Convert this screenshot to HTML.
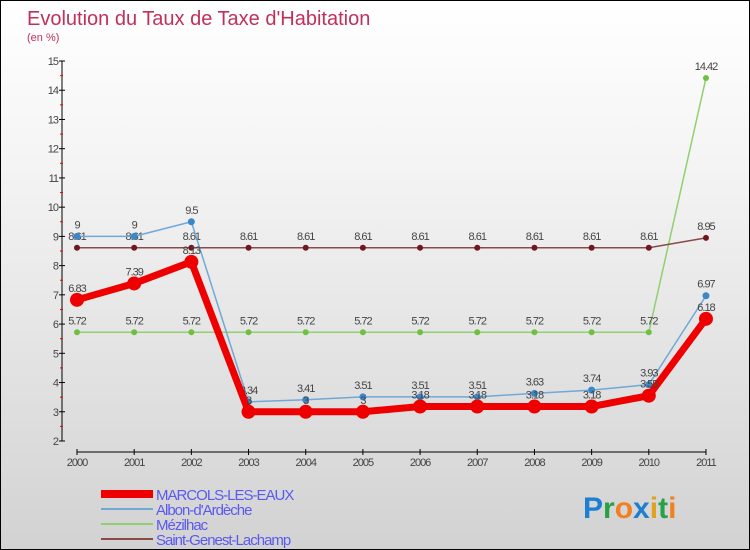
<!DOCTYPE html>
<html><head><meta charset="utf-8"><style>
body{margin:0}
#c{width:748px;height:548px;border:1px solid #000;background:linear-gradient(#ffffff,#f4f4f4 30%,#d2d2d2);position:relative;font-family:"Liberation Sans",sans-serif;overflow:hidden}
svg{position:absolute;left:0;top:0}
</style></head><body>
<div id="c">
<svg id="s" width="750" height="550">
<text x="26" y="24" font-size="20" fill="#c0305a">Evolution du Taux de Taxe d'Habitation</text>
<text x="26" y="40" font-size="11" fill="#c0305a">(en %)</text>
<g id="axes"></g><g id="series"></g><g id="legend"></g>
<text x="582" y="517" font-size="30" font-weight="bold"><tspan fill="#1e7fd0">P</tspan><tspan fill="#28a048">r</tspan><tspan fill="#f08020">o</tspan><tspan fill="#1e7fd0">x</tspan><tspan fill="#e0a020">i</tspan><tspan fill="#28a048">t</tspan><tspan fill="#f08020">i</tspan></text>
</svg></div>
<script>
const years=[2000,2001,2002,2003,2004,2005,2006,2007,2008,2009,2010,2011];
const yTicks=[2,3,4,5,6,7,8,9,10,11,12,13,14,15];
const marcols=[6.83,7.39,8.13,3,3,3,3.18,3.18,3.18,3.18,3.55,6.18];
const albon=[9,9,9.5,3.34,3.41,3.51,3.51,3.51,3.63,3.74,3.93,6.97];
const mezilhac=[5.72,5.72,5.72,5.72,5.72,5.72,5.72,5.72,5.72,5.72,5.72,14.42];
const genest=[8.61,8.61,8.61,8.61,8.61,8.61,8.61,8.61,8.61,8.61,8.61,8.95];
const seriesNames=["MARCOLS-LES-EAUX","Albon-d'Ardèche","Mézilhac","Saint-Genest-Lachamp"];
const NS="http://www.w3.org/2000/svg";
const X=i=>76+i*57.18, Y=v=>440-(v-2)*29.23;
function mk(t,a,p){const e=document.createElementNS(NS,t);for(const k in a)e.setAttribute(k,a[k]);p.appendChild(e);return e;}
const ax=document.getElementById('axes');
let l=mk('line',{x1:61,y1:60,x2:61,y2:440,stroke:'#000'},ax);


yTicks.forEach(v=>{mk('line',{x1:58,x2:64,y1:Y(v),y2:Y(v),stroke:'#000'},ax);
 if(v<15)mk('line',{x1:59,x2:62,y1:Y(v+0.5),y2:Y(v+0.5),stroke:'#e00'},ax);
 const t=mk('text',{x:57,y:Y(v)+4,'text-anchor':'end','font-size':11,fill:'#444','letter-spacing':'-1'},ax);t.textContent=v;
 
 });
l=mk('line',{x1:76,y1:451,x2:705,y2:451,stroke:'#000'},ax);


years.forEach((y,i)=>{mk('line',{x1:X(i),x2:X(i),y1:448,y2:454,stroke:'#000'},ax);
 const t=mk('text',{x:X(i),y:465,'text-anchor':'middle','font-size':11,fill:'#444','letter-spacing':'-1'},ax);t.textContent=y;
 
 });
const sg=document.getElementById('series');
function draw(d,col,w,r,dot,name){const g=mk('g',{},sg);
 
 
 mk('polyline',{points:d.map((v,i)=>X(i)+','+Y(v)).join(' '),fill:'none',stroke:col,'stroke-width':w,'stroke-linejoin':'round'},g);
 d.forEach((v,i)=>{mk('circle',{cx:X(i),cy:Y(v),r:r,fill:dot},g);
  const t=mk('text',{x:X(i),y:Y(v)-8,'text-anchor':'middle','font-size':11,fill:'#444','letter-spacing':'-1'},g);t.textContent=v;});}
draw(mezilhac,'#90d070',1.5,3,'#70c040','series-mezilhac');
draw(genest,'#8a4a4a',1.5,3,'#701820','series-saint-genest');
draw(albon,'#70a8d8',1.5,3.5,'#3a88c8','series-albon');
draw(marcols,'#ee0000',7,7,'#ee0000','series-marcols');
const lg=document.getElementById('legend');
const cols=['#ee0000','#70a8d8','#90d070','#8a4a4a'],ws=[8,2,2,2];
seriesNames.forEach((n,i)=>{const g=mk('g',{},lg);
 
 
 const y=493+i*15;
 mk('line',{x1:100,x2:152,y1:y,y2:y,stroke:cols[i],'stroke-width':ws[i]},g);
 const t=mk('text',{x:155,y:y+6,'font-size':15,fill:'#5a5af0','letter-spacing':'-1'},g);t.textContent=n;});
</script></body></html>
